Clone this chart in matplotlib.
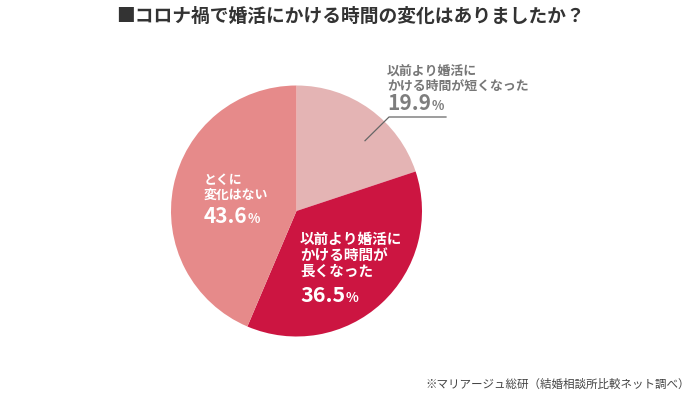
import matplotlib
matplotlib.use("Agg")
import matplotlib.pyplot as plt

plt.rcParams['font.family'] = ['Noto Sans CJK JP', 'DejaVu Sans']

# data
labels = ["以前より婚活に\nかける時間が短くなった", "以前より婚活に\nかける時間が\n長くなった", "とくに\n変化はない"]
values = [19.9, 36.5, 43.6]
colors = ["#e4b4b4", "#cc1541", "#e68a8a"]
title = "■コロナ禍で婚活にかける時間の変化はありましたか？"
source = "※マリアージュ総研（結婚相談所比較ネット調べ）"

W, H = 700, 395
fig = plt.figure(figsize=(W / 100, H / 100), dpi=100)

# pie axes: center (296.5, 211), radius 125.5 px
cx, cy, r = 296.5, 211, 125.5
ax = fig.add_axes([(cx - r) / W, (H - cy - r) / H, 2 * r / W, 2 * r / H])
ax.pie(values, colors=colors, startangle=90, counterclock=False, radius=1,
       wedgeprops=dict(linewidth=0))
ax.set_xlim(-1, 1)
ax.set_ylim(-1, 1)
ax.set_aspect('equal')
ax.axis('off')

# overlay in pixel coordinates for text and leader line
ov = fig.add_axes([0, 0, 1, 1])
ov.set_xlim(0, W)
ov.set_ylim(H, 0)
ov.axis('off')

ov.text(350, 16, title, ha='center', va='center', fontsize=13.5,
        fontweight='bold', color='#333333')
ov.text(690, 384, source, ha='right', va='center', fontsize=8.3, color='#444444')

fig.canvas.draw()
renderer = fig.canvas.get_renderer()


def block(x, y0, step, text, color, size):
    for i, line in enumerate(text.split("\n")):
        ov.text(x, y0 + i * step, line, ha='left', va='center', fontsize=size,
                fontweight='bold', color=color)


def pct_label(x, y, val, color, size):
    t = ov.text(x, y, f"{val:.1f}", ha='left', va='baseline', fontsize=size,
                fontweight='bold', color=color)
    bb = t.get_window_extent(renderer=renderer)
    x_end = ov.transData.inverted().transform((bb.x1, bb.y0))[0]
    ov.text(x_end + 0.5, y, "%", ha='left', va='baseline', fontsize=size * 0.62,
            fontweight='bold', color=color)


# 19.9% label outside
block(387, 71, 15, labels[0], '#777777', 9.3)
pct_label(387, 110, values[0], '#7d7d7d', 15)
ov.plot([365, 389, 446], [140.7, 117, 117], color='#666666', lw=0.9)

# 36.5% inside
block(300, 239, 16, labels[1], 'white', 10.5)
pct_label(300, 302, values[1], 'white', 15.5)

# 43.6% inside
block(204, 180, 15, labels[2], 'white', 9.3)
pct_label(204, 223, values[2], 'white', 15)

fig.savefig("out.png", dpi=100)
